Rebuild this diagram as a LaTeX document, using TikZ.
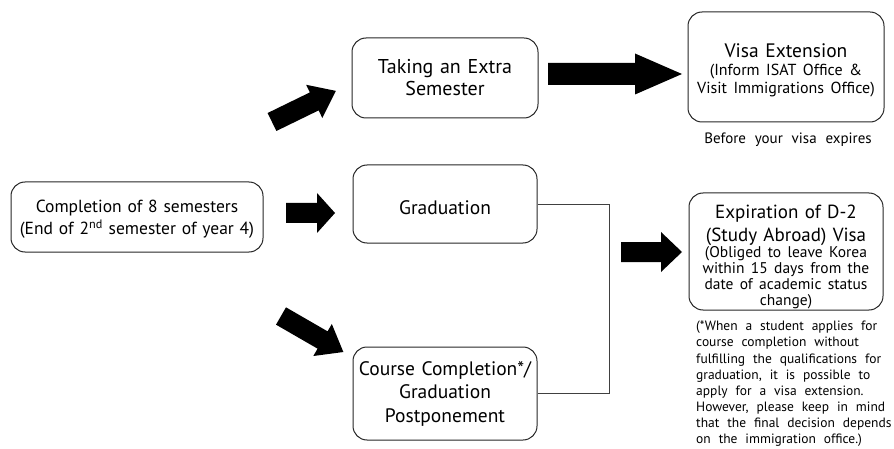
\documentclass[tikz,border=0pt]{standalone}
\usepackage{fontspec}
\setmainfont{PT Sans}[WordSpace=2.2]
\newcommand\fsz[2]{\fontsize{#1}{#2}\selectfont}
\newcommand\blockarrow[6]{%
  \begin{scope}[shift={(#1)},rotate=#2]
    \fill (0,-#4) -- ({#3-#6},-#4) -- ({#3-#6},-#5) -- (#3,0) -- ({#3-#6},#5) -- ({#3-#6},#4) -- (0,#4) -- cycle;
  \end{scope}}
\begin{document}
\begin{tikzpicture}[x=1pt,y=-1pt,
  box/.style={draw=black!85, rounded corners=14pt, line width=1pt, align=center, inner sep=0pt},
  link/.style={draw=black!75, line width=0.9pt}]
\useasboundingbox (0,0) rectangle (894,449);
\node[box, text width=252pt, minimum height=70pt, font=\fsz{17.5}{22}] (comp) at (137,217)
  {\rule{0pt}{17pt}Completion of 8 semesters\\(End of 2\smash{\textsuperscript{nd}} semester of year 4)};
\node[box, text width=186pt, minimum height=80pt, font=\fsz{20}{22}] (extra) at (445,78)
  {Taking an Extra\\Semester};
\node[box, text width=184pt, minimum height=78pt, font=\fsz{19.5}{22}] (grad) at (445,204)
  {\rule{0pt}{21pt}Graduation};
\node[box, text width=184pt, minimum height=93pt, font=\fsz{19.5}{23.5}] (course) at (445,393.5)
  {Course Completion*/\\Graduation\\Postponement};
\node[box, text width=196pt, minimum height=110pt, font=\fsz{19.5}{22}] (visa) at (786,67)
  {\rule{0pt}{20pt}Visa Extension\par\fsz{16}{18}(Inform ISAT Office \&\\Visit Immigrations Office)\par};
\node[font=\fsz{15}{16}] (before) at (788,140) {Before your visa expires};
\node[box, text width=194pt, minimum height=117pt, font=\fsz{19}{23}] (exp) at (786,251.5)
  {\rule{0pt}{24pt}Expiration of D-2\\(Study Abroad) Visa\par\fsz{15.5}{16}(Obliged to leave Korea\\within 15 days from the\\date of academic status\\change)\par};
\node[anchor=north west, align=left, inner sep=0pt, font=\fsz{13.5}{16.1}] (note) at (696,321)
  {(*When a student applies for\\course completion without\\fulfilling the qualifications for\\graduation, it is possible to\\apply for a visa extension.\\However, please keep in mind\\that the final decision depends\\on the immigration office.)};
\coordinate (j) at (609,0);
\draw[link] (grad.east) -- (grad.east -| j) -- (course.east -| j) -- (course.east);
\blockarrow{272,122}{26}{71}{10}{18.5}{24}
\blockarrow{281,316}{-30}{72}{10}{18.5}{24}
\blockarrow{286,213}{0}{49}{10}{20}{18}
\blockarrow{548,74}{0}{134}{11}{20.5}{47}
\blockarrow{621,252}{0}{61}{10}{20}{21}
\end{tikzpicture}
\end{document}
